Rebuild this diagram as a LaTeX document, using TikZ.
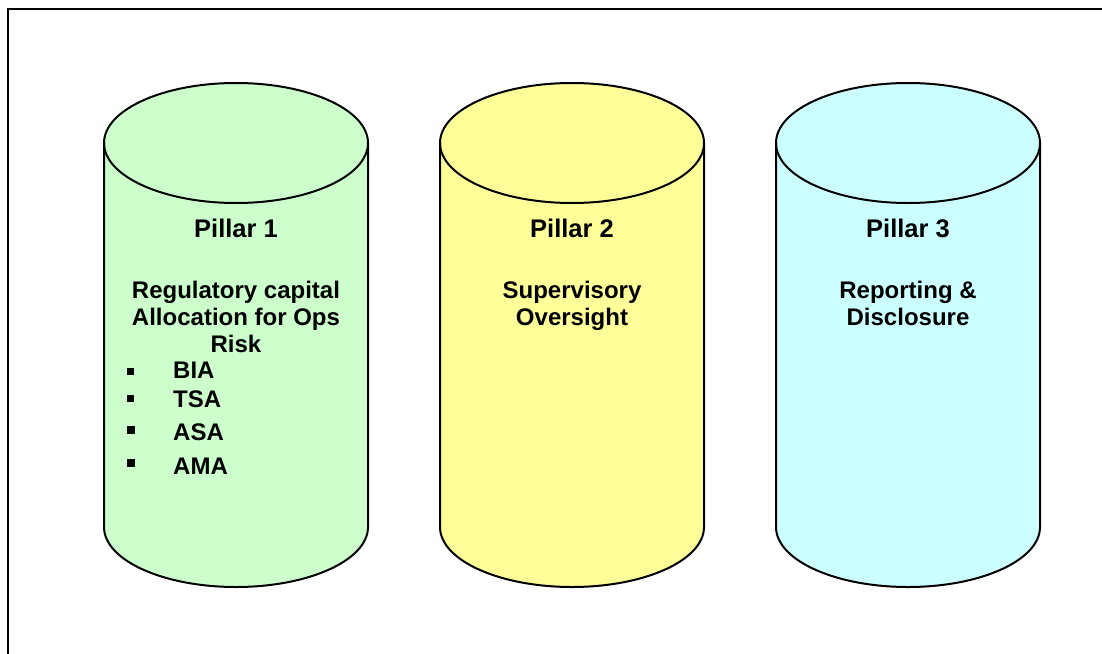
\documentclass[tikz,border=0pt]{standalone}
\usepackage{fontspec}
\setmainfont{Liberation Sans}
\usetikzlibrary{positioning}

\definecolor{pillargreen}{RGB}{204,255,204}
\definecolor{pillaryellow}{RGB}{255,255,153}
\definecolor{pillarcyan}{RGB}{204,255,255}

\begin{document}
\begin{tikzpicture}[
  x=1pt, y=1pt,
  pillar/.style={draw=black, line width=2pt},
  title/.style={font=\fontsize{25.5}{28}\selectfont\bfseries, anchor=base, inner sep=0pt},
  body/.style={font=\fontsize{24}{27}\selectfont\bfseries, align=center, inner sep=0pt},
  item/.style={font=\fontsize{24}{27}\selectfont\bfseries, anchor=base west, inner sep=0pt},
  bullet/.style={fill=black, inner sep=0pt, minimum size=#1}
]
\clip (0,0) rectangle (1102,-653);

% Frame
\draw[line width=2pt] (8,-9) rectangle (1120,-670);

% Pillars
\foreach \x/\col in {104/pillargreen, 440/pillaryellow, 776/pillarcyan}{
  \filldraw[pillar, fill=\col] (\x,-143) -- (\x,-527)
    arc[start angle=180, end angle=360, x radius=132pt, y radius=60pt]
    -- (\x+264,-143)
    arc[start angle=0, end angle=180, x radius=132pt, y radius=60pt] -- cycle;
  \draw[pillar] (\x,-143) arc[start angle=180, end angle=360, x radius=132pt, y radius=60pt];
}

% Titles
\node[title] (t1) at (236,-237) {Pillar 1};
\node[title] (t2) at (572,-237) {Pillar 2};
\node[title] (t3) at (908,-237) {Pillar 3};

% Descriptions
\node[body, below=43pt of t1] (d1) {Regulatory capital\\Allocation for Ops\\Risk};
\node[body, below=43pt of t2] (d2) {Supervisory\\Oversight};
\node[body, below=43pt of t3] (d3) {Reporting \&\\Disclosure};

% Approaches
\node[item] (i1) at (173,-378) {BIA};
\node[item] (i2) at (173,-407) {TSA};
\node[item] (i3) at (173,-440) {ASA};
\node[item] (i4) at (173,-474) {AMA};
\node[bullet=7pt] (b1) at (130,-371) {};
\node[bullet=7pt] (b2) at (130,-398) {};
\node[bullet=8.5pt] (b3) at (131,-430) {};
\node[bullet=8.5pt] (b4) at (131,-463) {};

\end{tikzpicture}
\end{document}
